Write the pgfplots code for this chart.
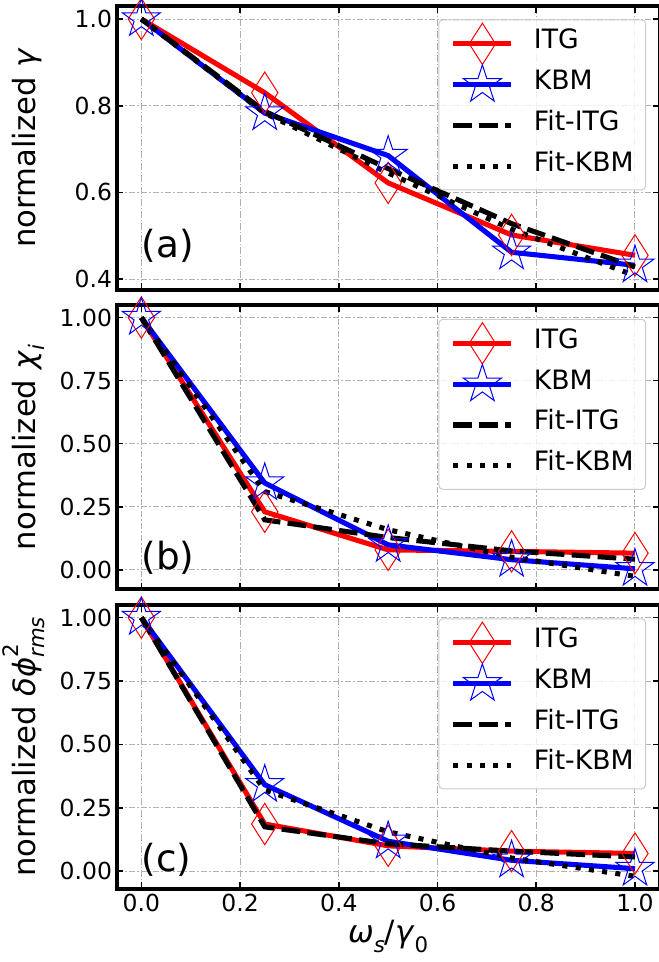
\documentclass[border=0pt]{standalone}
\usepackage{fontspec}
\setmainfont{DejaVu Sans}
\usepackage{pgfplots}
\pgfplotsset{compat=1.18}
\definecolor{gridgray}{HTML}{B0B0B0}
\definecolor{legframe}{HTML}{CCCCCC}
\newcommand{\subi}[1]{\raisebox{-0.3em}{\fontsize{16}{16}\selectfont\itshape #1}}
\newcommand{\subu}[1]{\raisebox{-0.3em}{\fontsize{16}{16}\selectfont #1}}
\tikzset{plabel/.style={anchor=base west, inner sep=0pt, font=\fontsize{28}{32}\selectfont}}
\pgfdeclareplotmark{ostar}{%
  \pgfpathmoveto{\pgfqpointpolar{90}{\pgfplotmarksize}}%
  \pgfpathlineto{\pgfqpointpolar{126}{0.382\pgfplotmarksize}}%
  \pgfpathlineto{\pgfqpointpolar{162}{\pgfplotmarksize}}%
  \pgfpathlineto{\pgfqpointpolar{198}{0.382\pgfplotmarksize}}%
  \pgfpathlineto{\pgfqpointpolar{234}{\pgfplotmarksize}}%
  \pgfpathlineto{\pgfqpointpolar{270}{0.382\pgfplotmarksize}}%
  \pgfpathlineto{\pgfqpointpolar{306}{\pgfplotmarksize}}%
  \pgfpathlineto{\pgfqpointpolar{342}{0.382\pgfplotmarksize}}%
  \pgfpathlineto{\pgfqpointpolar{18}{\pgfplotmarksize}}%
  \pgfpathlineto{\pgfqpointpolar{54}{0.382\pgfplotmarksize}}%
  \pgfpathclose
  \pgfusepathqstroke
}
\pgfplotsset{
  panel/.style={
    scale only axis, width=407.25pt, height=213pt,
    xmin=-0.05, xmax=1.05,
    xtick={0,0.2,0.4,0.6,0.8,1.0},
    grid=major,
    major grid style={gridgray, line width=0.75pt, dash pattern=on 5pt off 1.5pt on 1pt off 1.5pt},
    axis line style={line width=3pt},
    tick align=inside,
    major tick length=5pt,
    tick style={black, line width=1.2pt},
    tick label style={font=\fontsize{17.6}{20}\selectfont},
    /pgf/number format/assume math mode=true,
    xticklabel style={/pgf/number format/.cd, fixed, fixed zerofill, precision=1},
    label style={font=\fontsize{23}{27}\selectfont},
    ylabel style={at={(axis description cs:-0.15,0.5)}, anchor=base},
    clip=false,
    legend cell align=left,
    legend style={at={(axis description cs:0.975,0.953)}, anchor=north east,
      draw=legframe, line width=0.75pt, rounded corners=3pt,
      fill=white, fill opacity=0.8, text opacity=1,
      font=\fontsize{20}{24}\selectfont,
      inner xsep=9pt, inner ysep=2.5pt, row sep=0pt, column sep=15pt,
      nodes={inner sep=0pt, text height=0.73em, text depth=0pt}},
    legend image code/.code={
      \path[draw=none,fill=none] (0pt,-15.25pt) rectangle (43.5pt,15.25pt);
      \draw[mark repeat=2,mark phase=2,#1] plot coordinates {(0pt,0pt) (21.75pt,0pt) (43.5pt,0pt)};
    },
  },
  itg/.style={red, line width=3.8pt, mark=diamond, mark size=15.5pt,
    mark options={solid, line width=0.75pt, xscale=0.85}},
  kbm/.style={blue, line width=3.8pt, mark=ostar, mark size=15pt,
    mark options={solid, line width=0.75pt}},
  fititg/.style={black, line width=3.8pt, dash pattern=on 14pt off 5.5pt, no markers},
  fitkbm/.style={black, line width=3.8pt, dash pattern=on 3.8pt off 6.2pt, no markers},
}
\begin{document}
\begin{tikzpicture}
% ---------------- (a)
\begin{axis}[panel, at={(0pt,0pt)}, anchor=north west,
  ymin=0.375, ymax=1.03,
  ytick={0.4,0.6,0.8,1.0},
  yticklabel style={/pgf/number format/.cd, fixed, fixed zerofill, precision=1},
  xticklabels={},
  ylabel={normalized \textit{γ}}]
\addplot[itg] coordinates {(0,1.0) (0.25,0.83) (0.5,0.622) (0.75,0.502) (1.0,0.455)};
\addlegendentry{ITG}
\addplot[kbm] coordinates {(0,1.0) (0.25,0.783) (0.5,0.685) (0.75,0.462) (1.0,0.432)};
\addlegendentry{KBM}
\addplot[fititg] coordinates {(0,1.0) (0.25,0.787) (0.5,0.655) (0.75,0.528) (1.0,0.428)};
\addlegendentry{Fit-ITG}
\addplot[fitkbm] coordinates {(0,1.0) (0.25,0.783) (0.5,0.645) (0.75,0.515) (1.0,0.408)};
\addlegendentry{Fit-KBM}
\node[plabel] at (axis cs:0,0.45) {(a)};
\end{axis}
% ---------------- (b)
\begin{axis}[panel, at={(0pt,-224.6pt)}, anchor=north west,
  ymin=-0.078, ymax=1.048,
  ytick={0,0.25,0.5,0.75,1.0},
  yticklabel style={/pgf/number format/.cd, fixed, fixed zerofill, precision=2},
  xticklabels={},
  ylabel={normalized \textit{χ}\subi{i}}]
\addplot[itg] coordinates {(0,1.0) (0.25,0.23) (0.5,0.079) (0.75,0.073) (1.0,0.066)};
\addlegendentry{ITG}
\addplot[kbm] coordinates {(0,1.0) (0.25,0.344) (0.5,0.099) (0.75,0.04) (1.0,0.004)};
\addlegendentry{KBM}
\addplot[fititg] coordinates {(0,1.0) (0.25,0.198) (0.5,0.128) (0.75,0.075) (1.0,0.042)};
\addlegendentry{Fit-ITG}
\addplot[fitkbm] coordinates {(0,1.0) (0.25,0.31) (0.5,0.159) (0.75,0.05) (1.0,-0.026)};
\addlegendentry{Fit-KBM}
\node[plabel] at (axis cs:0,0.0) {(b)};
\end{axis}
% ---------------- (c)
\begin{axis}[panel, at={(0pt,-449.2pt)}, anchor=north west,
  ymin=-0.07, ymax=1.05,
  ytick={0,0.25,0.5,0.75,1.0},
  yticklabel style={/pgf/number format/.cd, fixed, fixed zerofill, precision=2},
  xlabel={\textit{ω}\subi{s}/\textit{γ}\subu{0}},
  ylabel={normalized \textit{δϕ}\makebox[0pt][l]{\raisebox{0.55em}{\fontsize{16}{16}\selectfont 2}}\subi{rms}}]
\addplot[itg] coordinates {(0,1.0) (0.25,0.186) (0.5,0.10) (0.75,0.079) (1.0,0.07)};
\addlegendentry{ITG}
\addplot[kbm] coordinates {(0,1.0) (0.25,0.341) (0.5,0.118) (0.75,0.043) (1.0,0.01)};
\addlegendentry{KBM}
\addplot[fititg] coordinates {(0,1.0) (0.25,0.175) (0.5,0.108) (0.75,0.079) (1.0,0.056)};
\addlegendentry{Fit-ITG}
\addplot[fitkbm] coordinates {(0,1.0) (0.25,0.32) (0.5,0.155) (0.75,0.052) (1.0,-0.02)};
\addlegendentry{Fit-KBM}
\node[plabel] at (axis cs:0,0.0) {(c)};
\end{axis}
\pgfresetboundingbox
\path[use as bounding box] (-87.5pt,4.5pt) rectangle (406.7pt,-717pt);
\end{tikzpicture}
\end{document}
